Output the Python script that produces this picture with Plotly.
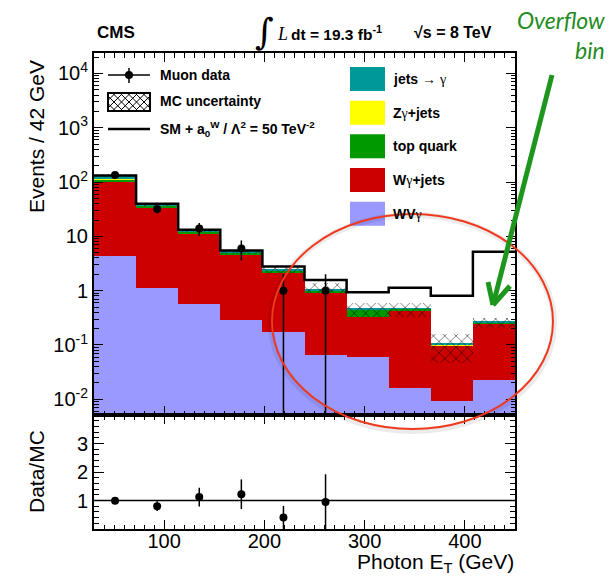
import plotly.graph_objects as go

# ---------------- data ----------------
bin_edges = [30, 72, 114, 156, 198, 240, 282, 324, 366, 408, 450]
bin_centers = [51, 93, 135, 177, 219, 261, 303, 345, 387, 429]

wvg = [4.4, 1.14, 0.58, 0.284, 0.17, 0.065, 0.061, 0.0159, 0.0093, 0.0227]
wg_jets = [99.0, 33.0, 10.3, 4.2, 1.93, 0.83, 0.271, 0.424, 0.0877, 0.228]
top_quark = [9.0, 2.8, 1.3, 0.47, 0.22, 0.12, 0.11, 0.02, 0.002, 0.004]
zg_jets = [1.6, 0.5, 0.15, 0.05, 0.03, 0.01, 0.005, 0.002, 0.001, 0.002]
jets_gamma = [17.0, 1.5, 0.45, 0.2, 0.1, 0.04, 0.013, 0.008, 0.007, 0.02]

mc_unc_low = [123, 36, 11.8, 4.7, 2.15, 0.90, 0.332, 0.33, 0.0458, 0.203]
mc_unc_high = [140, 42, 13.8, 5.7, 2.75, 1.37, 0.586, 0.60, 0.159, 0.31]

sm_aqgc = [132, 40, 13.2, 5.5, 2.8, 1.57, 0.93, 1.135, 0.81, 5.2]

data_x = [51, 93, 135, 177, 219, 261]
data_y = [135, 32, 14, 6, 1, 1]
data_err = [11.6, 5.7, 3.7, 2.4, 1.0, 1.0]

ratio_y = [0.99, 0.80, 1.12, 1.22, 0.40, 0.95]
ratio_err = [0.08, 0.17, 0.33, 0.52, 0.41, 0.97]

log_tickvals = [1e-2, 1e-1, 1, 10, 1e2, 1e3, 1e4]
log_ticktext = ["10<sup>-2</sup>", "10<sup>-1</sup>", "1", "10",
                "10<sup>2</sup>", "10<sup>3</sup>", "10<sup>4</sup>"]
ratio_tickvals = [1, 2, 3]

# ---------------- geometry helpers (pixel -> paper) ----------------
W, H = 609, 576
L, R, T, B = 94, 94, 53, 47
PW, PH = W - L - R, H - T - B


def px(x):
    return (x - L) / PW


def py(y):
    return (H - B - y) / PH


RATIO_FRAC = (529 - 415) / PH

COL = {
    "jets": "#009999",
    "zg": "#FFFF00",
    "top": "#009900",
    "wg": "#CC0000",
    "wvg": "#9999FF",
}

fig = go.Figure()

# ---------------- stacked histogram ----------------
layers = [
    (wvg, COL["wvg"], "WVγ"),
    (wg_jets, COL["wg"], "Wγ+jets"),
    (top_quark, COL["top"], "top quark"),
    (zg_jets, COL["zg"], "Zγ+jets"),
    (jets_gamma, COL["jets"], "jets → γ"),
]
cum = [0.0] * len(bin_centers)
for vals, color, name in layers:
    base = list(cum) if any(cum) else None
    fig.add_trace(go.Bar(
        x=bin_centers, y=vals, base=base, width=42,
        marker=dict(color=color, line=dict(width=0)),
        name=name, showlegend=False, xaxis="x", yaxis="y",
    ))
    cum = [c + v for c, v in zip(cum, vals)]

# MC uncertainty hatched band
fig.add_trace(go.Bar(
    x=bin_centers,
    y=[h - l for l, h in zip(mc_unc_low, mc_unc_high)],
    base=mc_unc_low, width=42,
    marker=dict(color="rgba(0,0,0,0)", line=dict(width=0),
                pattern=dict(shape="x", fgcolor="black", bgcolor="rgba(0,0,0,0)",
                             size=8, solidity=0.12, fillmode="replace")),
    showlegend=False, xaxis="x", yaxis="y",
))

# SM + aQGC step line
fig.add_trace(go.Scatter(
    x=bin_edges, y=sm_aqgc + [sm_aqgc[-1]], mode="lines",
    line=dict(color="black", width=2.5, shape="hv"),
    showlegend=False, xaxis="x", yaxis="y",
))

# data
fig.add_trace(go.Scatter(
    x=data_x, y=data_y, mode="markers",
    marker=dict(color="black", size=8),
    error_y=dict(type="data", array=data_err, color="black", thickness=1.5, width=0),
    showlegend=False, xaxis="x", yaxis="y",
))

# ratio
fig.add_trace(go.Scatter(
    x=data_x, y=ratio_y, mode="markers",
    marker=dict(color="black", size=8),
    error_y=dict(type="data", array=ratio_err, color="black", thickness=1.5, width=0),
    showlegend=False, xaxis="x2", yaxis="y2",
))

axis_font = dict(family="Liberation Sans, Arial, sans-serif", size=20, color="black")
common_x = dict(range=[30, 450], tick0=0, dtick=100, ticks="inside", ticklen=9,
                tickwidth=1, tickcolor="black", showline=True, linewidth=2,
                linecolor="black", mirror="allticks", showgrid=False, zeroline=False,
                minor=dict(ticks="inside", ticklen=4.5, dtick=10, tick0=0,
                           tickcolor="black", tickwidth=1, showgrid=False))

fig.update_layout(
    width=W, height=H, autosize=False,
    margin=dict(l=L, r=R, t=T, b=B, pad=0),
    paper_bgcolor="white", plot_bgcolor="white",
    barmode="overlay", bargap=0, showlegend=False,
    font=axis_font,
    xaxis=dict(domain=[0, 1], anchor="y", showticklabels=False, **common_x),
    xaxis2=dict(domain=[0, 1], anchor="y2", matches="x", showticklabels=True,
                tickfont=axis_font, ticklabelstandoff=-7, **common_x),
    yaxis=dict(domain=[RATIO_FRAC, 1], anchor="x", type="log",
               range=[-2.29, 4.377], tickmode="array", tickvals=log_tickvals,
               ticktext=log_ticktext, ticks="inside", ticklen=9, tickwidth=1,
               tickcolor="black", showline=True, linewidth=2, linecolor="black",
               mirror="allticks", showgrid=False, zeroline=False, tickfont=axis_font,
               minor=dict(ticks="inside", ticklen=4.5, dtick="D1",
                          tickcolor="black", tickwidth=1, showgrid=False)),
    yaxis2=dict(domain=[0, RATIO_FRAC], anchor="x2", range=[0, 4],
                tickmode="array", tickvals=ratio_tickvals, ticks="inside",
                ticklen=10, tickwidth=1, tickcolor="black", showline=True,
                linewidth=2, linecolor="black", mirror="allticks", showgrid=False,
                zeroline=False, tickfont=axis_font,
                minor=dict(ticks="inside", ticklen=5, dtick=0.2, tick0=0,
                           tickcolor="black", tickwidth=1, showgrid=False)),
)

shapes = []
annotations = []

# ratio reference line
shapes.append(dict(type="line", xref="x2", yref="y2", x0=30, x1=450, y0=1, y1=1,
                   line=dict(color="black", width=1.5), layer="above"))


def text(x, y, s, size=14, xanchor="left", family="Liberation Sans, Arial, sans-serif",
         color="black", angle=0):
    annotations.append(dict(x=px(x), y=py(y), xref="paper", yref="paper", text=s,
                            showarrow=False, xanchor=xanchor, yanchor="middle",
                            textangle=angle, font=dict(family=family, size=size, color=color)))


GAMMA = "<span style='font-family:Liberation Serif;font-weight:normal'>γ</span>"
ARROW = "<span style='font-weight:normal'>→</span>"

# ---------- header ----------
text(95, 33, "<b>CMS</b>", size=17)
text(264, 32, "∫", size=36, xanchor="center", family="DejaVu Serif")
text(275, 34, "<i>L</i>", size=18, family="Liberation Serif")
text(289, 33, "<b>dt = 19.3 fb<sup>-1</sup></b>", size=15.5)
text(494, 33, "<b>√s = 8 TeV</b>", size=16, xanchor="right")

# ---------- axis titles ----------
text(36, 137, "Events / 42 GeV", size=21, xanchor="center", angle=-90)
text(36, 472, "Data/MC", size=21, xanchor="center", angle=-90)
text(516, 563, "Photon E<sub>T</sub> (GeV)", size=21, xanchor="right")

# ---------- legend, left column ----------
LF = 14
shapes.append(dict(type="line", xref="paper", yref="paper", x0=px(108), x1=px(150),
                   y0=py(75), y1=py(75), line=dict(color="black", width=1.5)))
shapes.append(dict(type="line", xref="paper", yref="paper", x0=px(129), x1=px(129),
                   y0=py(68), y1=py(83), line=dict(color="black", width=1.5)))
shapes.append(dict(type="circle", xref="paper", yref="paper", x0=px(125), x1=px(133),
                   y0=py(71), y1=py(79), fillcolor="black", line=dict(color="black", width=0)))
text(158, 75, "<b>Muon data</b>", size=LF)


def hatch_path(x0, y0, x1, y1, s):
    segs = []
    c = (y0 - x1)
    while c <= (y1 - x0):
        a, b = max(x0, y0 - c), min(x1, y1 - c)
        if b > a:
            segs.append((a, a + c, b, b + c))
        c += s
    c = x0 + y0
    while c <= x1 + y1:
        a, b = max(x0, c - y1), min(x1, c - y0)
        if b > a:
            segs.append((a, c - a, b, c - b))
        c += s
    return " ".join(f"M{px(p):.5f},{py(q):.5f} L{px(r):.5f},{py(t):.5f}" for p, q, r, t in segs)


shapes.append(dict(type="path", xref="paper", yref="paper",
                   path=hatch_path(108, 93, 150, 111, 7.5), line=dict(color="black", width=1)))
shapes.append(dict(type="rect", xref="paper", yref="paper", x0=px(108), x1=px(150),
                   y0=py(93), y1=py(111), line=dict(color="black", width=2)))
text(158, 101, "<b>MC uncertainty</b>", size=LF)

shapes.append(dict(type="line", xref="paper", yref="paper", x0=px(108), x1=px(150),
                   y0=py(129), y1=py(129), line=dict(color="black", width=2.5)))
text(158, 129, "<b>SM + a<sub>0</sub><sup>W</sup> / Λ<sup>2</sup> = 50 TeV<sup>-2</sup></b>", size=LF)

# ---------- legend, right column ----------
right_items = [
    (COL["jets"], f"<b>jets {ARROW} {GAMMA}</b>", 79),
    (COL["zg"], f"<b>Z{GAMMA}+jets</b>", 112.8),
    (COL["top"], "<b>top quark</b>", 146.3),
    (COL["wg"], f"<b>W{GAMMA}+jets</b>", 180),
    (COL["wvg"], f"<b>WV{GAMMA}</b>", 213.7),
]
for color, label, yc in right_items:
    shapes.append(dict(type="rect", xref="paper", yref="paper", x0=px(350), x1=px(385),
                       y0=py(yc - 12), y1=py(yc + 12), fillcolor=color,
                       line=dict(width=0)))
    text(391, yc, label, size=LF)

# ---------- red ellipse annotation ----------
ecx, ecy, erx, ery = 412.5, 321.5, 140.5, 107.5
shapes.append(dict(type="circle", xref="paper", yref="paper",
                   x0=px(ecx - erx - 1), x1=px(ecx + erx + 1),
                   y0=py(ecy + ery + 2), y1=py(ecy - ery + 1),
                   line=dict(color="rgba(0,0,0,0.08)", width=6)))
shapes.append(dict(type="circle", xref="paper", yref="paper",
                   x0=px(ecx - erx), x1=px(ecx + erx),
                   y0=py(ecy + ery), y1=py(ecy - ery),
                   line=dict(color="#F03A1E", width=2)))

# ---------- green arrow + text ----------
GREEN = "#1E961E"
for (x0, y0, x1, y1) in [(552, 75, 493, 305), (493, 305, 488, 282), (493, 305, 510, 286)]:
    shapes.append(dict(type="line", xref="paper", yref="paper",
                       x0=px(x0), y0=py(y0), x1=px(x1), y1=py(y1),
                       line=dict(color=GREEN, width=5)))
text(607, 20, "<i>Overflow</i>", size=23, xanchor="right", family="Lato", color="#228B22")
text(607, 50, "<i>bin</i>", size=23, xanchor="right", family="Lato", color="#228B22")

fig.update_layout(shapes=shapes, annotations=annotations)
fig.write_html(
    "out.html",
    config={"displayModeBar": False},
    post_script="document.body.style.margin='0';document.body.style.overflow='hidden';",
)
